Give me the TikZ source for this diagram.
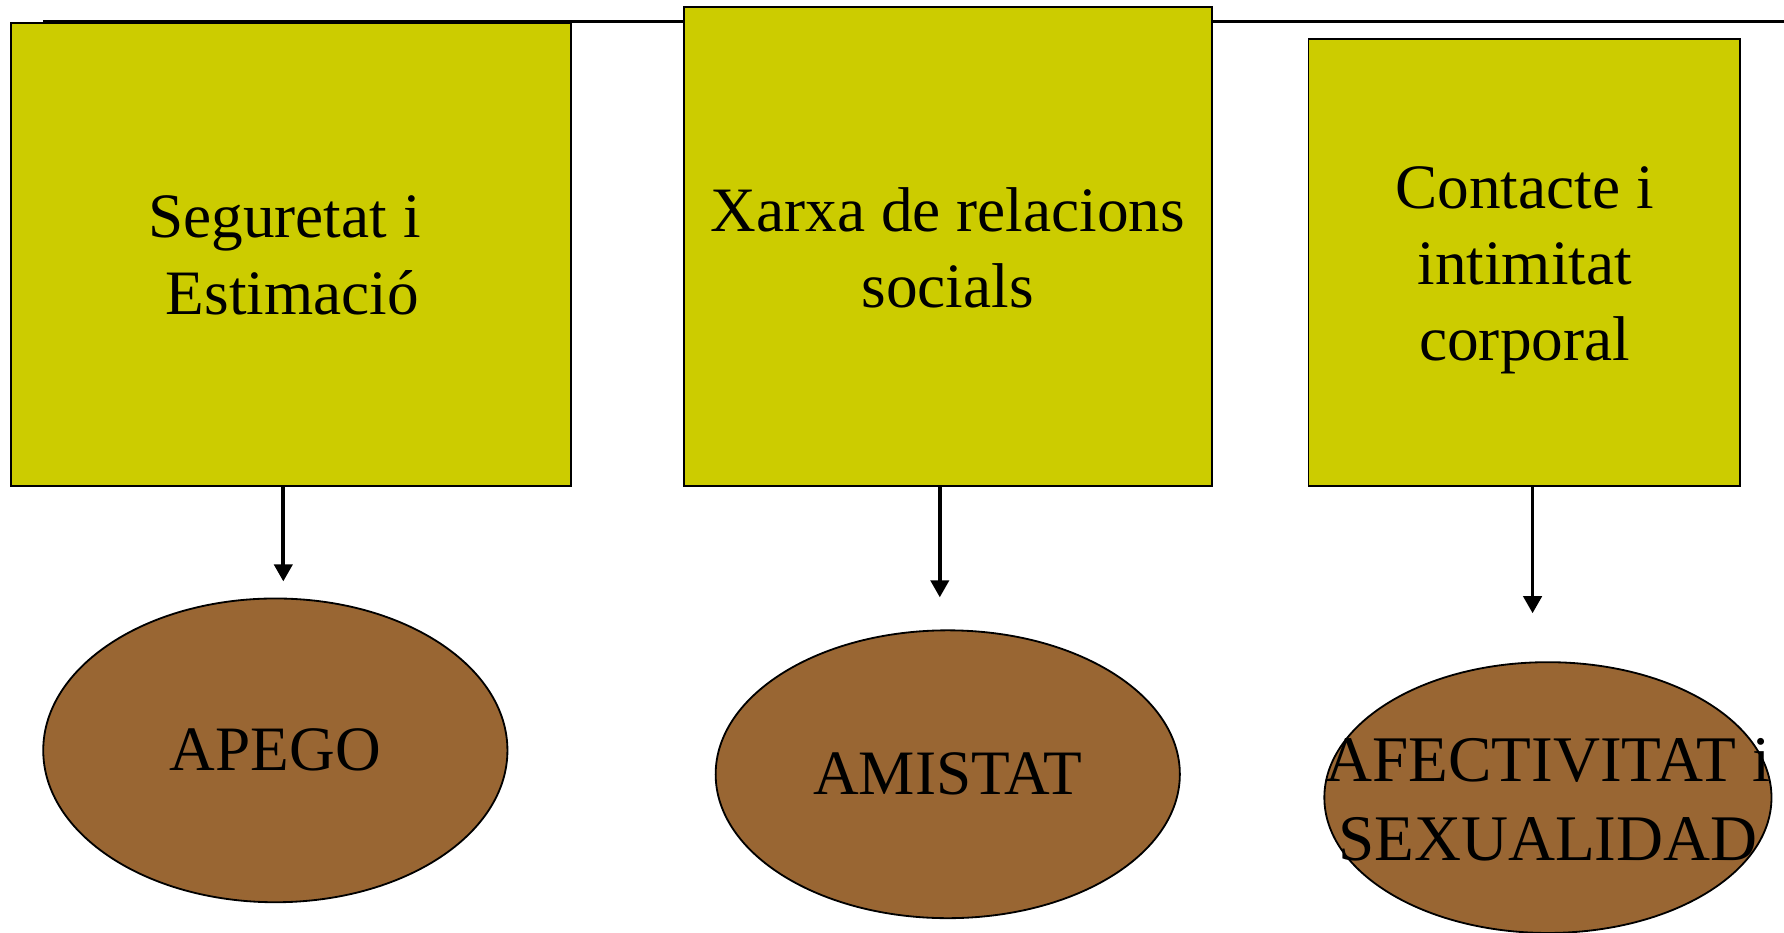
\documentclass[tikz,border=0pt]{standalone}
\usepackage{fontspec}
\setmainfont{Liberation Serif}
\usetikzlibrary{shapes.geometric,arrows.meta}
\definecolor{boxyellow}{HTML}{CCCC00}
\definecolor{ovalbrown}{HTML}{996633}
\begin{document}
\begin{tikzpicture}[x=0.5pt,y=-0.5pt,
  txt/.style={font=\fontsize{27.8}{33.5}\selectfont, align=center, text=black, inner sep=0pt},
  needbox/.style={rectangle, draw=black, line width=0.8pt, fill=boxyellow, inner sep=0pt},
  ovalnode/.style={ellipse, draw=black, line width=0.8pt, fill=ovalbrown, inner sep=0pt},
  conn/.style={line width=1.6pt, -{Triangle[length=7.5pt,width=8pt]}}]
\useasboundingbox (0,0) rectangle (1568,820);
\coordinate (ls) at (38,19);
\coordinate (le) at (1568,19);
\draw[line width=1.1pt] (ls) -- (le);
\node[needbox, minimum width=246pt, minimum height=203.5pt] (b1) at (256,223.5) {};
\node[needbox, minimum width=232pt, minimum height=210.5pt] (b2) at (833,216.5) {};
\node[needbox, minimum width=189.5pt, minimum height=196.5pt] (b3) at (1339.5,230.5) {};
\node[txt] (l1) at (250,224.5) {Seguretat i\\\hspace*{0.25em}Estimació};
\node[txt] (l2) at (833,218) {Xarxa de relacions\\socials};
\node[txt] (l3) at (1340,237.5) {Contacte i\\intimitat\\corporal};
\node[ovalnode, minimum width=204pt, minimum height=133.5pt] (e1) at (242,659.5) {};
\node[ovalnode, minimum width=204pt, minimum height=126.5pt] (e2) at (833,680.5) {};
\node[ovalnode, minimum width=196.5pt, minimum height=119pt] (e3) at (1360.5,701) {};
\node[txt] (m1) at (e1.center) {APEGO};
\node[txt] (m2) at (e2.center) {AMISTAT};
\node[txt, font=\fontsize{28.6}{34.5}\selectfont] (m3) at ([yshift=-1pt]e3.center) {AFECTIVITAT i\\SEXUALIDAD};
\coordinate (t1) at (249,511);
\coordinate (t2) at (826,525);
\coordinate (t3) at (1347,539);
\draw[conn] (b1.south -| t1) -- (t1);
\draw[conn] (b2.south -| t2) -- (t2);
\draw[conn] (b3.south -| t3) -- (t3);
\end{tikzpicture}
\end{document}
